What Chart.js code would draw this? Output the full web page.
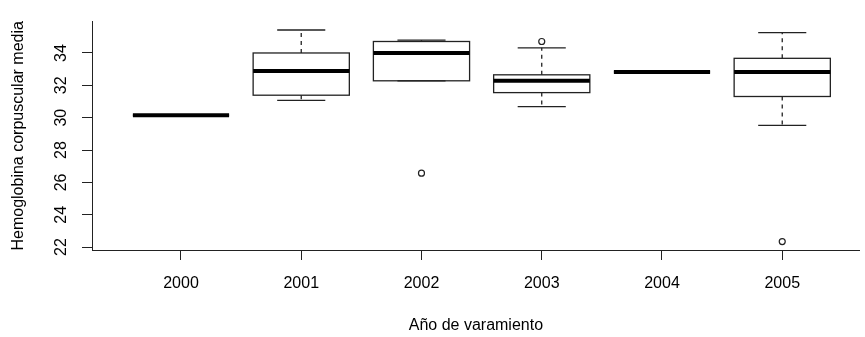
<!DOCTYPE html>
<html>
<head>
<meta charset="utf-8">
<script src="https://cdn.jsdelivr.net/npm/chart.js@4/dist/chart.umd.min.js"></script>
<style>
  html, body { margin: 0; padding: 0; background: #fff; }
</style>
</head>
<body>
<canvas id="boxChart" width="865" height="337"></canvas>
<script>
// data
const years = ["2000", "2001", "2002", "2003", "2004", "2005"];
const lowWhisker = [30.15, 31.07, 32.28, 30.68, 32.83, 29.52];
const q1 = [30.15, 31.39, 32.28, 31.55, 32.83, 31.31];
const median = [30.15, 32.88, 34.0, 32.28, 32.83, 32.83];
const q3 = [30.15, 34.0, 34.71, 32.65, 32.83, 33.67];
const highWhisker = [30.15, 35.42, 34.79, 34.32, 32.83, 35.26];
const outlierYear = ["2002", "2003", "2005"];
const outlierValue = [26.57, 34.71, 22.34];
const yTicks = [22, 24, 26, 28, 30, 32, 34];

const ink = "#222";
const font = { family: "'Liberation Sans', Arial, sans-serif", size: 16 };
const boxWidth = 0.8;

// draws boxes, whiskers and medians through the chart scales
const boxPlot = {
    id: "boxPlot",
    afterDatasetsDraw(chart) {
        const { ctx, scales: { x, y } } = chart;
        ctx.save();
        years.forEach((yr, i) => {
            const cx = x.getPixelForValue(i + 1);
            const half = x.getPixelForValue(i + 1 + boxWidth / 2) - cx;
            const cap = half / 2;
            const yLo = y.getPixelForValue(lowWhisker[i]);
            const yQ1 = y.getPixelForValue(q1[i]);
            const yMed = y.getPixelForValue(median[i]);
            const yQ3 = y.getPixelForValue(q3[i]);
            const yHi = y.getPixelForValue(highWhisker[i]);

            ctx.strokeStyle = ink;
            ctx.lineWidth = 1.3;

            // dashed whiskers
            ctx.setLineDash([4, 4]);
            ctx.beginPath();
            ctx.moveTo(cx, yQ3);
            ctx.lineTo(cx, yHi);
            ctx.moveTo(cx, yQ1);
            ctx.lineTo(cx, yLo);
            ctx.stroke();
            ctx.setLineDash([]);

            // staples
            ctx.beginPath();
            ctx.moveTo(cx - cap, yHi);
            ctx.lineTo(cx + cap, yHi);
            ctx.moveTo(cx - cap, yLo);
            ctx.lineTo(cx + cap, yLo);
            ctx.stroke();

            // box
            ctx.strokeRect(cx - half, yQ3, half * 2, yQ1 - yQ3);

            // median
            ctx.lineWidth = 4;
            ctx.strokeStyle = "#000";
            ctx.beginPath();
            ctx.moveTo(cx - half, yMed);
            ctx.lineTo(cx + half, yMed);
            ctx.stroke();
        });
        ctx.restore();
    },
};

const outliers = outlierYear.map((yr, i) => ({
    x: years.indexOf(yr) + 1,
    y: outlierValue[i],
}));

const config = {
    type: "scatter",
    data: {
        datasets: [
            {
                data: outliers,
                pointRadius: 3,
                pointBorderWidth: 1.2,
                borderColor: ink,
                backgroundColor: "rgba(0,0,0,0)",
            },
        ],
    },
    options: {
        responsive: false,
        animation: false,
        devicePixelRatio: 1,
        layout: { padding: { top: 10, right: 0, left: 0, bottom: 0 } },
        plugins: {
            legend: { display: false },
            tooltip: { enabled: false },
        },
        scales: {
            x: {
                type: "linear",
                min: 0.26,
                max: 6.645,
                afterBuildTicks: (s) => {
                    s.ticks = years.map((_, i) => ({ value: i + 1 }));
                },
                afterFit: (s) => {
                    s.height = 87;
                },
                ticks: {
                    callback: (v, i) => years[i],
                    autoSkip: false,
                    maxRotation: 0,
                    padding: 14,
                    color: "#000",
                    font,
                },
                grid: {
                    display: true,
                    drawOnChartArea: false,
                    drawTicks: true,
                    tickLength: 10,
                    color: ink,
                    lineWidth: 1,
                },
                border: { display: true, color: ink, width: 1 },
                title: {
                    display: true,
                    text: "Año de varamiento",
                    color: "#000",
                    font,
                    padding: { top: 0, bottom: 2 },
                },
            },
            y: {
                type: "linear",
                min: 21.82,
                max: 35.94,
                afterBuildTicks: (s) => {
                    s.ticks = yTicks.map((v) => ({ value: v }));
                },
                afterFit: (s) => {
                    s.width = 92;
                },
                ticks: {
                    minRotation: 90,
                    maxRotation: 90,
                    crossAlign: "center",
                    padding: 12,
                    color: "#000",
                    font,
                },
                grid: {
                    display: true,
                    drawOnChartArea: false,
                    drawTicks: true,
                    tickLength: 10,
                    color: ink,
                    lineWidth: 1,
                },
                border: { display: true, color: ink, width: 1 },
                title: {
                    display: true,
                    text: "Hemoglobina corpuscular media",
                    color: "#000",
                    font,
                    padding: { top: 9, bottom: 0 },
                },
            },
        },
    },
    plugins: [boxPlot],
};

const boxChart = new Chart(document.getElementById("boxChart"), config);
</script>
</body>
</html>
